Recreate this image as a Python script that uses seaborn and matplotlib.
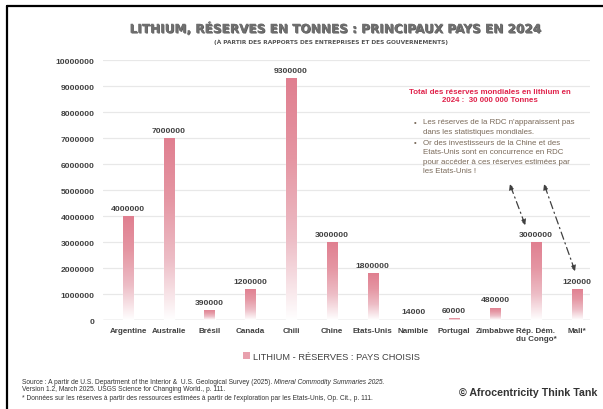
import matplotlib
matplotlib.use("Agg")
import matplotlib.pyplot as plt
import matplotlib.patheffects as pe
from matplotlib.lines import Line2D
from matplotlib.patches import Patch
from matplotlib.colors import LinearSegmentedColormap
import seaborn as sns
import numpy as np
import pandas as pd

pays = ['Argentine', 'Australie', 'Brésil', 'Canada', 'Chili', 'Chine', 'Etats-Unis',
        'Namibie', 'Portugal', 'Zimbabwe', 'Rép. Dém.\ndu Congo*', 'Mali*']
reserves = [4000000, 7000000, 390000, 1200000, 9300000, 3000000, 1800000,
            14000, 60000, 480000, 3000000, 1200000]
etiquettes = ['4000000', '7000000', '390000', '1200000', '9300000', '3000000', '1800000',
              '14000', '60000', '480000', '3000000', '120000']
yticks = [0, 1000000, 2000000, 3000000, 4000000, 5000000, 6000000, 7000000, 8000000, 9000000, 10000000]

df = pd.DataFrame({'Pays': pays, 'Reserves': reserves})

sns.set_style("white")
sans = ['Liberation Sans', 'DejaVu Sans']
plt.rcParams['font.family'] = sans

rose = '#e07f90'
dark = '#404040'

fig = plt.figure(figsize=(6.03, 4.10), dpi=100)
ax = fig.add_axes([0.171, 0.217, 0.807, 0.634])

sns.barplot(data=df, x='Pays', y='Reserves', color=rose, width=0.25, saturation=1, ax=ax, zorder=2)

# gradient fill on each bar (pink top -> white bottom)
cmap = LinearSegmentedColormap.from_list('g', ['#ffffff', '#edbdc6', '#e596a3', rose])
grad = np.linspace(1, 0, 256).reshape(-1, 1)
for p in ax.patches:
    x0, w, h = p.get_x(), p.get_width(), p.get_height()
    im = ax.imshow(grad, cmap=cmap, aspect='auto', extent=[x0, x0 + w, 0, h], zorder=3)
    im.set_clip_path(p)

for i, p in enumerate(ax.patches):
    ax.annotate(etiquettes[i], (p.get_x() + p.get_width() / 2, p.get_height()),
                xytext=(0, 3), textcoords='offset points', ha='center', va='bottom',
                fontsize=6.1, fontweight='bold', color=dark, zorder=5)

ax.set_xlim(-0.61, 11.32)
ax.set_ylim(0, 10000000)
ax.set_yticks(yticks)
ax.set_yticklabels([str(v) for v in yticks])
ax.yaxis.grid(True, color='#e8e8e8', linewidth=0.9, zorder=0)
ax.axhline(0, color='#d0d0d0', linewidth=1, zorder=1)
for s in ax.spines.values():
    s.set_visible(False)
ax.tick_params(axis='y', length=0, labelsize=6.1, labelcolor=dark, pad=6)
ax.tick_params(axis='x', length=0, labelsize=5.8, labelcolor=dark, pad=5)
for t in ax.get_xticklabels() + ax.get_yticklabels():
    t.set_fontweight('bold')
ax.set_xlabel('')
ax.set_ylabel('')

# arrows towards RDC and Mali
arr = dict(arrowstyle='<|-|>', color=dark, lw=0.9, linestyle=(0, (6, 3, 1, 3)), mutation_scale=8,
           shrinkA=0, shrinkB=0)
ax.annotate('', xy=(9.36, 5230000), xytext=(9.74, 3650000), arrowprops=arr)
ax.annotate('', xy=(10.2, 5230000), xytext=(10.96, 1880000), arrowprops=arr)

# titles
fig.text(0.559, 0.927, 'LITHIUM, RÉSERVES EN TONNES : PRINCIPAUX PAYS EN 2024', ha='center', va='center',
         fontsize=8.7, fontweight='heavy', color='#6f6f6f', family=['DejaVu Sans'],
         path_effects=[pe.withSimplePatchShadow(offset=(0.6, -0.6), shadow_rgbFace='#303030', alpha=0.8), pe.Normal()])
fig.text(0.549, 0.897, '(À PARTIR DES RAPPORTS DES ENTREPRISES ET DES GOUVERNEMENTS)', ha='center', va='center',
         fontsize=4.2, fontweight='heavy', color='#555555', family=['DejaVu Sans'])

# comment box
fig.text(0.813, 0.764, 'Total des réserves mondiales en lithium en\n2024 :  30 000 000 Tonnes', ha='center', va='center',
         fontsize=5.7, fontweight='bold', color='#e0224b', linespacing=1.25)
bullet_color = '#7a6a5a'
fig.text(0.686, 0.700, '•', ha='left', va='center', fontsize=5.6, color=bullet_color)
fig.text(0.701, 0.709, "Les réserves de la RDC n'apparaissent pas\ndans les statistiques mondiales.",
         ha='left', va='top', fontsize=5.7, color=bullet_color, linespacing=1.45)
fig.text(0.686, 0.649, '•', ha='left', va='center', fontsize=5.6, color=bullet_color)
fig.text(0.701, 0.658, "Or des investisseurs de la Chine et des\nEtats-Unis sont en concurrence en RDC\n"
         "pour accéder à ces réserves estimées par\nles Etats-Unis !",
         ha='left', va='top', fontsize=5.7, color=bullet_color, linespacing=1.45)

# legend
fig.legend(handles=[Patch(facecolor='#e8a0ad', edgecolor='none')], labels=['LITHIUM - RÉSERVES : PAYS CHOISIS'],
           loc='center', bbox_to_anchor=(0.55, 0.129), frameon=False, fontsize=6.7,
           handlelength=0.7, handleheight=0.7, handletextpad=0.4, labelcolor=dark)

# footer
t1 = fig.text(0.036, 0.068, 'Source : A partir de U.S. Department of the Interior &  U.S. Geological Survey (2025). ',
              ha='left', va='center', fontsize=4.8, color='#333333')
fig.canvas.draw()
bb = t1.get_window_extent(renderer=fig.canvas.get_renderer())
fig.text(bb.x1 / fig.bbox.width, 0.068, 'Mineral Commodity Summaries 2025.', ha='left', va='center',
         fontsize=4.8, color='#333333', style='italic')
fig.text(0.036, 0.049, 'Version 1.2, March 2025. USGS Science for Changing World., p. 111.',
         ha='left', va='center', fontsize=4.8, color='#333333')
fig.text(0.036, 0.027, "* Données sur les réserves à partir des ressources estimées à partir de l'exploration par les Etats-Unis, Op. Cit., p. 111.",
         ha='left', va='center', fontsize=4.8, color='#333333')
fig.text(0.99, 0.041, '© Afrocentricity Think Tank', ha='right', va='center', fontsize=7.7,
         fontweight='bold', color='#333333')

# frame lines (top and left)
fig.add_artist(Line2D([0.012, 1.0], [0.982, 0.982], transform=fig.transFigure, color='black', lw=1.6))
fig.add_artist(Line2D([0.012, 0.012], [0.0, 0.982], transform=fig.transFigure, color='black', lw=1.6))

fig.savefig('out.png', dpi=100)
